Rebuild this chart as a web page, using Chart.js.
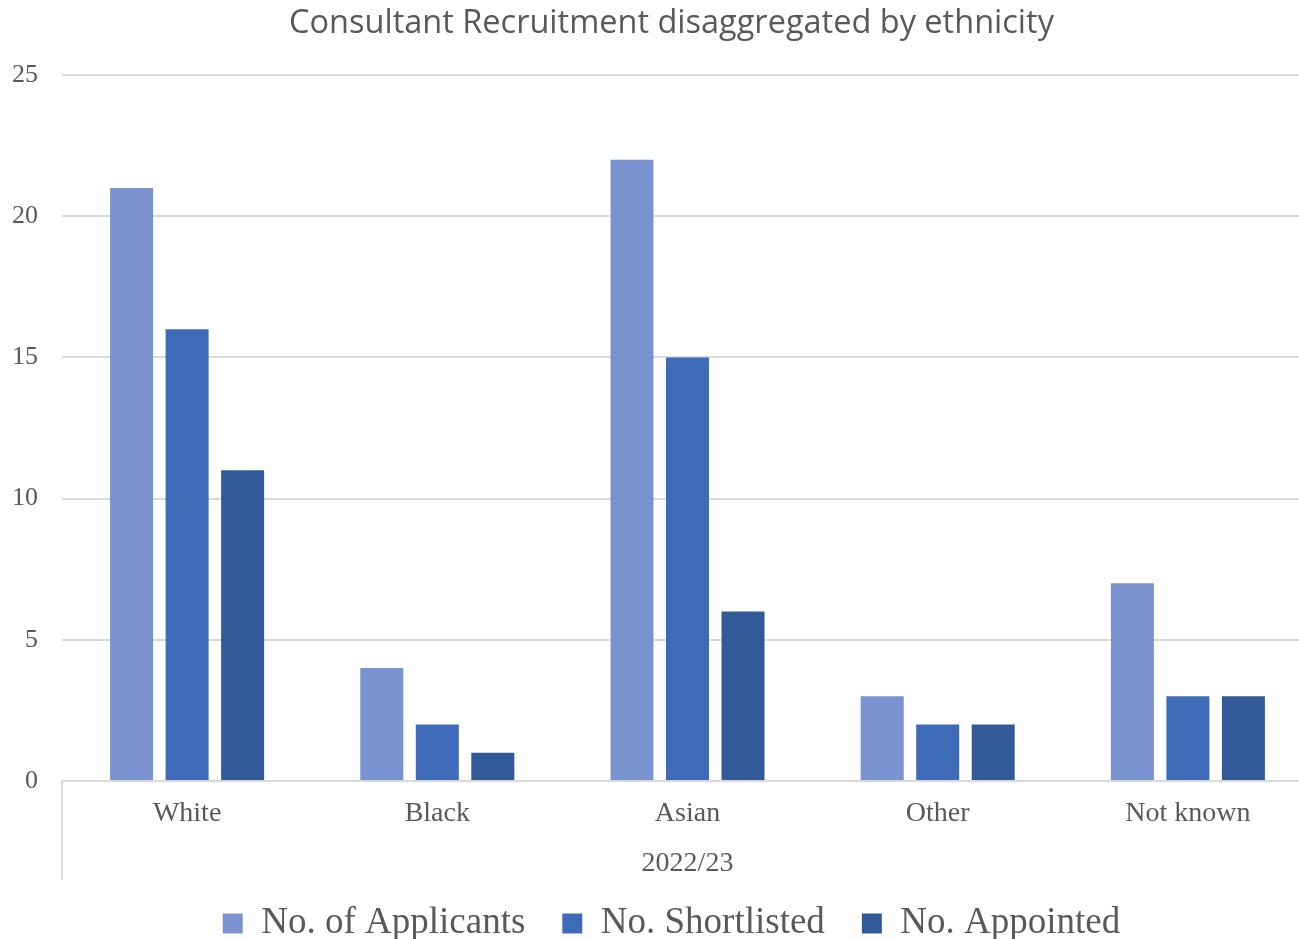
<!DOCTYPE html>
<html>
<head>
<meta charset="utf-8">
<script src="https://cdn.jsdelivr.net/npm/chart.js@4"></script>
<style>
  body { margin: 0; background: #fff; }
  #frame { width: 1299px; height: 939px; overflow: hidden; }
  #wrap { width: 1343px; height: 952px; position: relative; }
</style>
</head>
<body>
<div id="frame"><div id="wrap"><canvas id="myChart"></canvas></div></div>
<script>
const categories = ['White', 'Black', 'Asian', 'Other', 'Not known'];
const groupLabel = '2022/23';
const applicants = [21, 4, 22, 3, 7];
const shortlisted = [16, 2, 15, 2, 3];
const appointed = [11, 1, 6, 2, 3];
const yTicks = [0, 5, 10, 15, 20, 25];

const serif = "'Liberation Serif', 'Times New Roman', serif";
const axisBottom = 781;   // where the zero line sits
const groupDepth = 99;    // height of the two-level category band

// group label and the line at the left of the category band
Chart.register({
    id: 'groupBand',
    afterDraw: function(chart) {
        const ctx = chart.ctx;
        const area = chart.chartArea;
        ctx.save();
        ctx.strokeStyle = '#d9d9d9';
        ctx.lineWidth = 2;
        ctx.beginPath();
        ctx.moveTo(area.left, area.bottom);
        ctx.lineTo(area.left, area.bottom + groupDepth);
        ctx.stroke();
        ctx.fillStyle = '#595959';
        ctx.font = '28px ' + serif;
        ctx.textAlign = 'center';
        ctx.textBaseline = 'middle';
        ctx.fillText(groupLabel, (area.left + area.right) / 2, area.bottom + 83);
        ctx.restore();
    }
});

const ctx = document.getElementById('myChart').getContext('2d');

new Chart(ctx, {
    type: 'bar',
    data: {
        labels: categories,
        datasets: [
            { label: 'No. of Applicants', data: applicants, backgroundColor: '#7a92cf' },
            { label: 'No. Shortlisted', data: shortlisted, backgroundColor: '#3e6bb7' },
            { label: 'No. Appointed', data: appointed, backgroundColor: '#325a98' }
        ]
    },
    options: {
        responsive: true,
        maintainAspectRatio: false,
        animation: false,
        barPercentage: 0.775,
        categoryPercentage: 0.6655,
        plugins: {
            title: {
                display: true,
                text: 'Consultant Recruitment disaggregated by ethnicity',
                color: '#595959',
                font: { family: "'Open Sans', sans-serif", size: 32.5, weight: 'normal' },
                padding: { top: 4, bottom: 32 }
            },
            legend: {
                position: 'bottom',
                labels: {
                    color: '#595959',
                    font: { family: serif, size: 37 },
                    boxWidth: 20,
                    boxHeight: 20,
                    padding: 37
                }
            },
            tooltip: { enabled: false }
        },
        scales: {
            x: {
                grid: { display: false },
                border: { color: '#d9d9d9', width: 2 },
                ticks: {
                    color: '#595959',
                    font: { family: serif, size: 28 },
                    padding: 8
                },
                afterFit: function(scale) {
                    const legendH = (scale.chart.legend && scale.chart.legend.height) || 60;
                    scale.height = scale.chart.height - axisBottom - legendH;
                }
            },
            y: {
                min: 0,
                max: 25,
                border: { display: false },
                grid: { color: '#d9d9d9', lineWidth: 2, drawTicks: false },
                afterBuildTicks: function(scale) {
                    scale.ticks = yTicks.map(v => ({ value: v }));
                },
                ticks: {
                    color: '#595959',
                    font: { family: serif, size: 26 },
                    padding: 24
                },
                afterFit: function(scale) { scale.width = 62; }
            },
            // empty spacer on the right so the plot runs past the picture edge
            yRight: {
                type: 'linear',
                position: 'right',
                border: { display: false },
                grid: { display: false },
                ticks: { display: false },
                afterFit: function(scale) { scale.width = 30; }
            }
        }
    }
});
</script>
</body>
</html>
